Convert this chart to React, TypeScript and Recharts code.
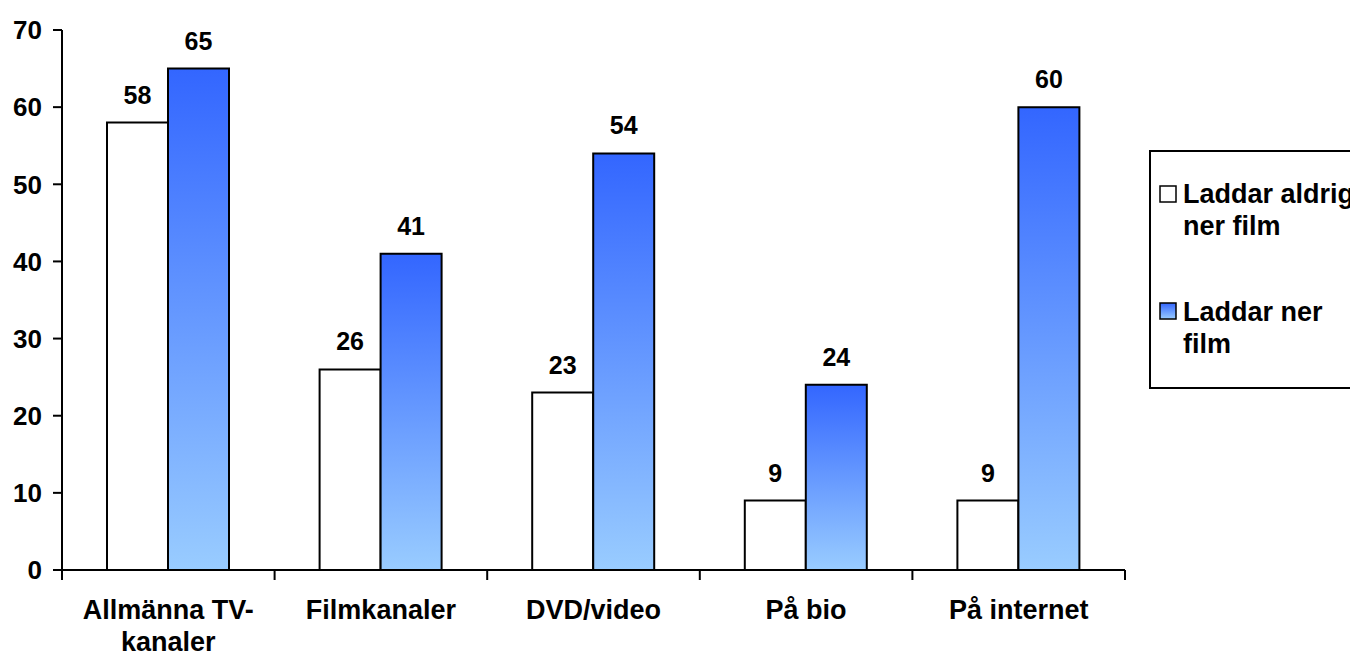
import React from 'react';
import { BarChart, Bar, XAxis, YAxis, LabelList, Legend } from 'recharts';

const categories = ['Allmänna TV-\nkanaler', 'Filmkanaler', 'DVD/video', 'På bio', 'På internet'];
const neverDownload = [58, 26, 23, 9, 9];
const download = [65, 41, 54, 24, 60];
const yTicks = [0, 10, 20, 30, 40, 50, 60, 70];
const seriesNames = ['Laddar aldrig ner film', 'Laddar ner film'];
const legendLines = [
  ['Laddar aldrig', 'ner film'],
  ['Laddar ner', 'film'],
];

const data = categories.map((c, i) => ({
  category: c,
  never: neverDownload[i],
  down: download[i],
}));

const FONT = '"Liberation Sans", Arial, Helvetica, sans-serif';

function CategoryTick(props: any) {
  const { x, y, payload, index, width, visibleTicksCount } = props;
  const band = width && visibleTicksCount ? width / visibleTicksCount : 0;
  const lines = String(payload.value).split('\n');
  const axisY = y - 9;
  return (
    <g>
      {band > 0 && (
        <line x1={x - band / 2} x2={x - band / 2} y1={axisY} y2={axisY + 10} stroke="#000" strokeWidth={2} />
      )}
      {band > 0 && index === visibleTicksCount - 1 && (
        <line x1={x + band / 2} x2={x + band / 2} y1={axisY} y2={axisY + 10} stroke="#000" strokeWidth={2} />
      )}
      <text x={x} y={y} textAnchor="middle" fontFamily={FONT} fontSize={27} fontWeight="bold" fill="#000">
        {lines.map((l, i) => (
          <tspan key={i} x={x} dy={i === 0 ? 40 : 32}>
            {l}
          </tspan>
        ))}
      </text>
    </g>
  );
}

function LegendBox(props: any) {
  const payload = props.payload || [];
  const squareY = [36, 153];
  const baseY = [53, 171];
  return (
    <svg width={202} height={240} style={{ display: 'block', overflow: 'hidden' }}>
      <rect x={1} y={1} width={240} height={237} fill="#fff" stroke="#000" strokeWidth={2} />
      {payload.map((p: any, i: number) => (
        <g key={i}>
          <rect x={11} y={squareY[i]} width={16} height={16} fill={p.color} stroke="#000" strokeWidth={1.5} />
          <text x={34} y={baseY[i]} fontFamily={FONT} fontSize={27} fontWeight="bold" fill="#000">
            {(legendLines[i] || [p.value]).map((l: string, j: number) => (
              <tspan key={j} x={34} dy={j === 0 ? 0 : 32}>
                {l}
              </tspan>
            ))}
          </text>
        </g>
      ))}
    </svg>
  );
}

export default function App() {
  return (
    <div style={{ position: 'absolute', left: 0, top: 0, width: 1350, height: 657, overflow: 'hidden', background: '#fff' }}>
      <BarChart
        width={1350}
        height={657}
        data={data}
        margin={{ top: 30, right: 225, left: 0, bottom: 0 }}
        barGap={0}
        barSize={61}
      >
        <defs>
          <linearGradient id="blueGrad" x1="0" y1="0" x2="0" y2="1">
            <stop offset="0%" stopColor="#3366ff" />
            <stop offset="100%" stopColor="#99ccff" />
          </linearGradient>
        </defs>
        <XAxis
          dataKey="category"
          height={87}
          tickSize={9}
          tickMargin={0}
          tickLine={false}
          axisLine={{ stroke: '#000', strokeWidth: 2 }}
          tick={<CategoryTick />}
          interval={0}
        />
        <YAxis
          width={62}
          domain={[0, 70]}
          ticks={yTicks}
          interval={0}
          tickSize={9}
          tickMargin={11}
          axisLine={{ stroke: '#000', strokeWidth: 2 }}
          tickLine={{ stroke: '#000', strokeWidth: 2 }}
          tick={{ fill: '#000', fontSize: 26, fontWeight: 'bold', fontFamily: FONT }}
        />
        <Legend
          layout="horizontal"
          align="center"
          verticalAlign="middle"
          wrapperStyle={{ position: 'absolute', left: 1149, top: 150, width: 202, height: 240 }}
          content={<LegendBox />}
        />
        <Bar dataKey="never" name={seriesNames[0]} fill="#ffffff" stroke="#000" strokeWidth={2} isAnimationActive={false}>
          <LabelList dataKey="never" position="top" offset={19} fill="#000" fontSize={25} fontWeight="bold" fontFamily={FONT} />
        </Bar>
        <Bar dataKey="down" name={seriesNames[1]} fill="url(#blueGrad)" stroke="#000" strokeWidth={2} isAnimationActive={false}>
          <LabelList dataKey="down" position="top" offset={19} fill="#000" fontSize={25} fontWeight="bold" fontFamily={FONT} />
        </Bar>
      </BarChart>
    </div>
  );
}
